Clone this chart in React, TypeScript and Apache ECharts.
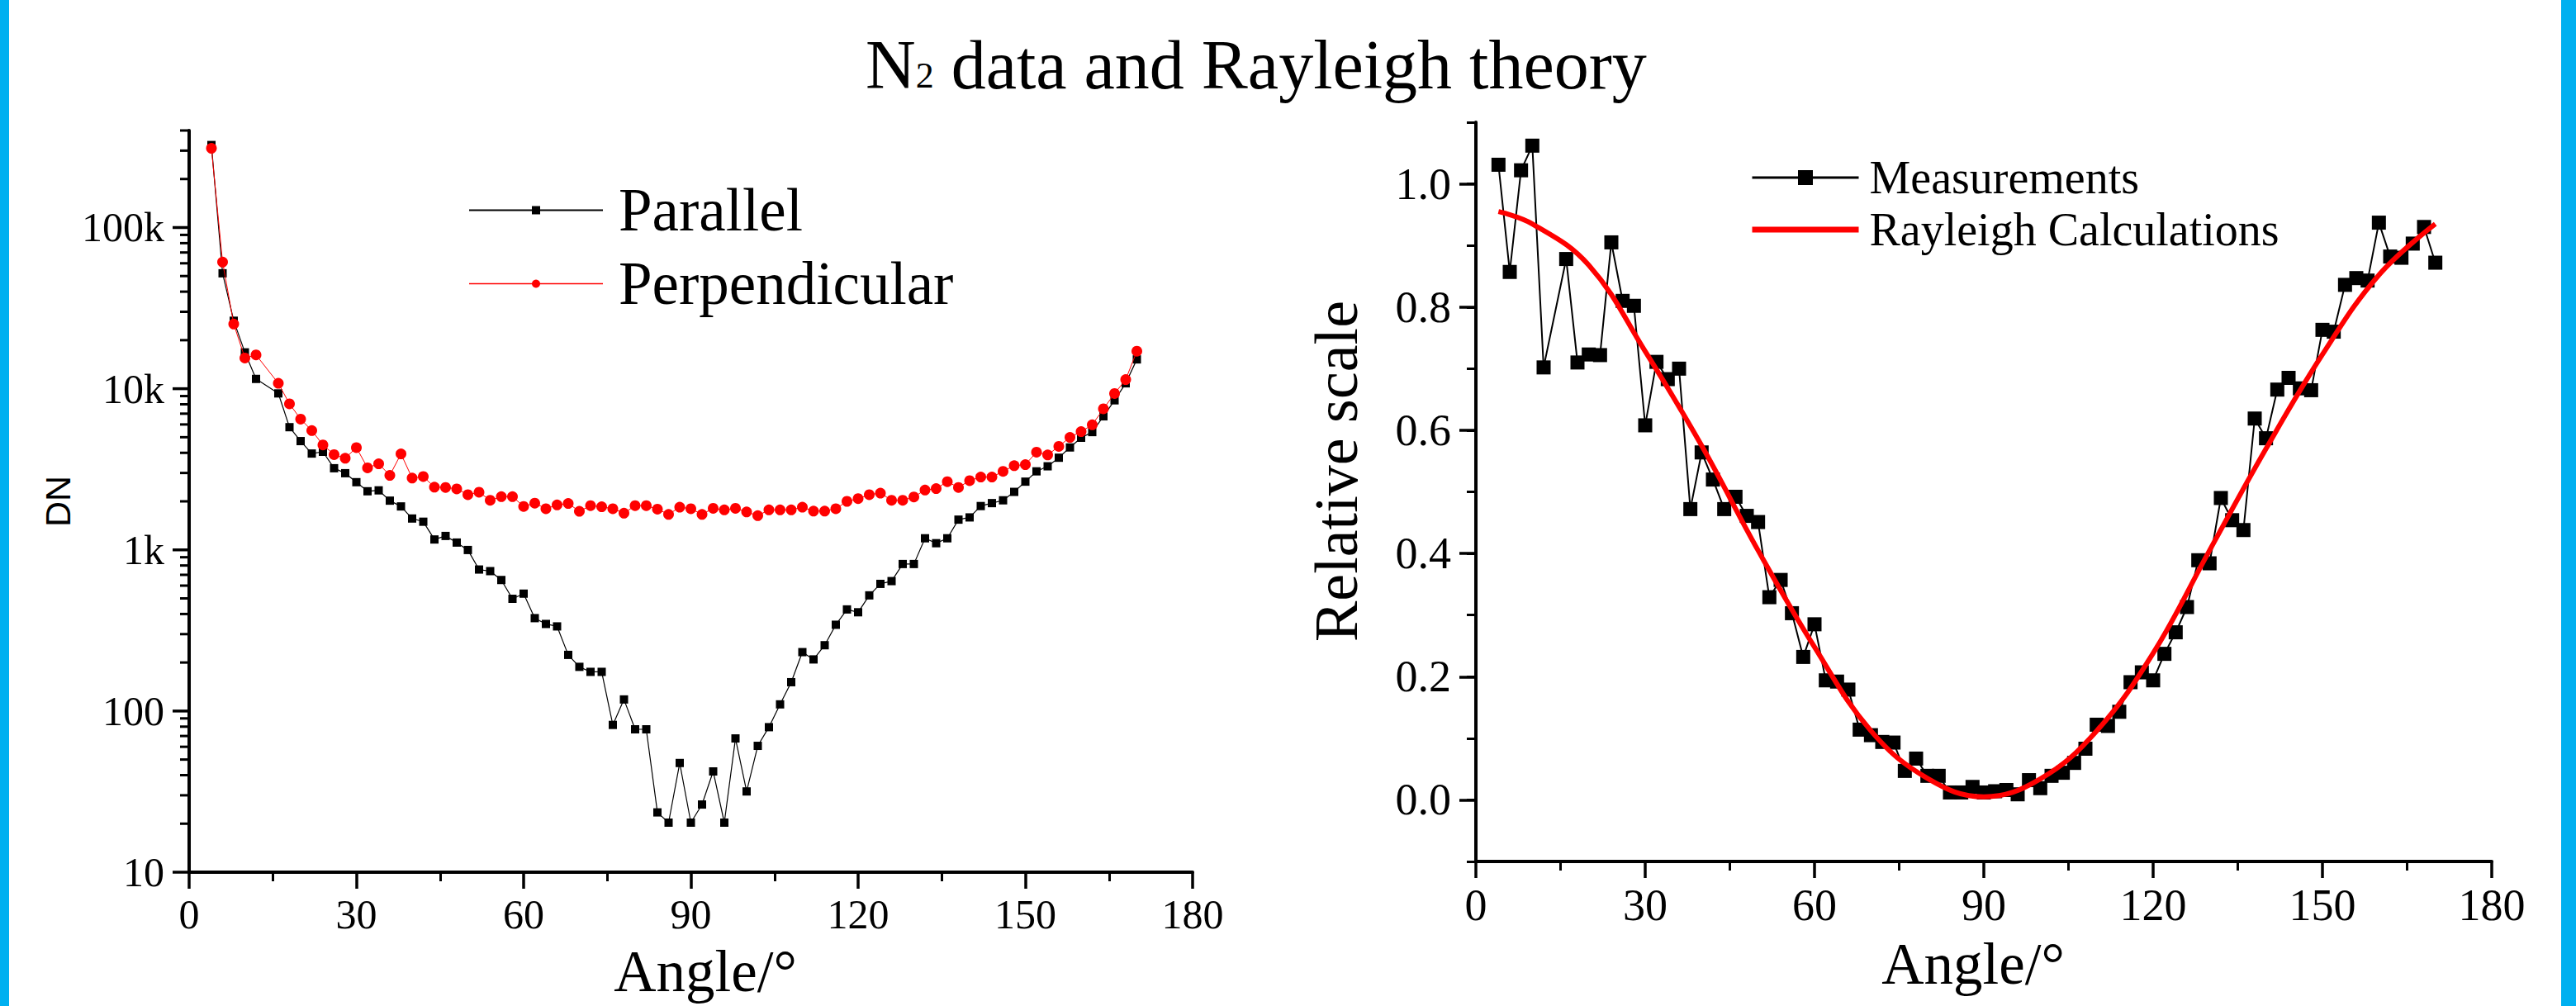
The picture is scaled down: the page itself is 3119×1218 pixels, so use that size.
import React, { useEffect, useRef } from "react";
import * as echarts from "echarts";

const SERIF = "'Liberation Serif', 'Times New Roman', serif";
const SANS = "'Liberation Sans', Arial, sans-serif";

// Scattering angles (deg) shared by all measured series
const angles = [
  4, 6, 8, 10, 12, 16, 18, 20, 22, 24, 26, 28, 30, 32, 34, 36, 38, 40, 42, 44,
  46, 48, 50, 52, 54, 56, 58, 60, 62, 64, 66, 68, 70, 72, 74, 76, 78, 80, 82,
  84, 86, 88, 90, 92, 94, 96, 98, 100, 102, 104, 106, 108, 110, 112, 114, 116,
  118, 120, 122, 124, 126, 128, 130, 132, 134, 136, 138, 140, 142, 144, 146,
  148, 150, 152, 154, 156, 158, 160, 162, 164, 166, 168, 170,
];

// Left chart: DN (log scale)
const parallel = [
  325000, 52000, 26400, 16800, 11500, 9350, 5770, 4730, 3960, 4060, 3210, 2990,
  2630, 2310, 2340, 2020, 1860, 1565, 1495, 1160, 1220, 1110, 998, 755, 738,
  650, 497, 535, 377, 347, 335, 223, 188, 175, 175, 82, 118, 77, 77, 23.5, 20.3,
  47.6, 20.3, 26.3, 42.2, 20.3, 67.6, 31.7, 60.8, 79.4, 110, 151, 232, 209, 256,
  343, 427, 410, 522, 615, 640, 817, 817, 1180, 1100, 1180, 1540, 1590, 1870,
  1950, 2030, 2290, 2650, 3070, 3300, 3730, 4320, 4960, 5380, 6740, 8470,
  10800, 15200,
];

const perpendicular = [
  310000, 61000, 25200, 15500, 16200, 10800, 8050, 6480, 5500, 4480, 3900,
  3700, 4310, 3230, 3420, 2900, 3940, 2790, 2850, 2450, 2440, 2390, 2200, 2280,
  2030, 2140, 2140, 1860, 1950, 1800, 1900, 1940, 1735, 1880, 1850, 1800, 1690,
  1880, 1880, 1790, 1660, 1840, 1800, 1660, 1810, 1770, 1810, 1720, 1630, 1770,
  1770, 1770, 1840, 1740, 1740, 1800, 2000, 2080, 2200, 2250, 2030, 2030, 2130,
  2350, 2400, 2650, 2440, 2690, 2830, 2830, 3070, 3330, 3380, 4040, 3880, 4390,
  4990, 5420, 5970, 7500, 9330, 11400, 17100,
];

// Right chart: relative scale
const measurements = [
  1.031, 0.857, 1.022, 1.062, 0.702, 0.878, 0.71, 0.723, 0.722, 0.905, 0.81,
  0.802, 0.608, 0.711, 0.683, 0.7, 0.472, 0.564, 0.52, 0.472, 0.492, 0.461,
  0.451, 0.329, 0.357, 0.303, 0.232, 0.285, 0.194, 0.192, 0.179, 0.114, 0.105,
  0.094, 0.093, 0.047, 0.067, 0.039, 0.039, 0.012, 0.012, 0.021, 0.012, 0.014,
  0.016, 0.009, 0.032, 0.019, 0.039, 0.044, 0.06, 0.083, 0.122, 0.12, 0.143,
  0.191, 0.207, 0.194, 0.237, 0.272, 0.313, 0.389, 0.384, 0.49, 0.454, 0.438,
  0.619, 0.587, 0.666, 0.685, 0.668, 0.665, 0.763, 0.76, 0.836, 0.847, 0.843,
  0.937, 0.882, 0.88, 0.903, 0.93, 0.872,
];

const rayleighAngles = [4, 10, 20, 30, 40, 50, 60, 70, 80, 90, 100, 110, 120, 130, 140, 150, 160, 170];
const rayleighValues = [
  0.955, 0.935, 0.868, 0.728, 0.575, 0.405, 0.248, 0.112, 0.035, 0.005, 0.034,
  0.112, 0.238, 0.405, 0.57, 0.723, 0.852, 0.935,
];

// Axis tick positions
const relativeLabelValues = [0, 0.2, 0.4, 0.6, 0.8, 1.0];
const logMajorTicks = [10, 100, 1000, 10000, 100000];
const logMinorTicks = [
  20, 30, 40, 50, 60, 70, 80, 90, 200, 300, 400, 500, 600, 700, 800, 900, 2000,
  3000, 4000, 5000, 6000, 7000, 8000, 9000, 20000, 30000, 40000, 50000, 60000,
  70000, 80000, 90000, 200000, 300000, 400000,
];

function buildOption() {
  const pair = (xs: number[], ys: number[]) => xs.map((x, i) => [x, ys[i]]);

  const xAxisBase = (gridIndex: number, fontSize: number, nameGap: number, padding: number[]) => ({
    gridIndex,
    type: "value",
    min: 0,
    max: 180,
    interval: 30,
    axisLine: { show: true, onZero: false, lineStyle: { color: "#000", width: 4 } },
    axisTick: { show: true, length: 20, lineStyle: { color: "#000", width: 3.5 } },
    minorTick: { show: true, splitNumber: 2, length: 11, lineStyle: { color: "#000", width: 3 } },
    splitLine: { show: false },
    axisLabel: { fontSize, margin: 26, color: "#000", fontFamily: SERIF },
    name: "Angle/°",
    nameLocation: "middle",
    nameGap,
    nameTextStyle: { fontSize: 71, color: "#000", fontFamily: SERIF, padding },
  });

  return {
    animation: false,
    backgroundColor: "#fff",
    textStyle: { fontFamily: SERIF, color: "#000" },
    title: {
      text: "{n|N}{s|2}{n| data and Rayleigh theory}",
      left: 1043,
      top: 31,
      textStyle: {
        fontWeight: "normal",
        rich: {
          n: { fontSize: 84, lineHeight: 84, fontFamily: SERIF, fontWeight: "normal", color: "#000" },
          s: { fontSize: 44, lineHeight: 44, fontFamily: SERIF, fontWeight: "normal", color: "#000", verticalAlign: "bottom", padding: [0, 0, 7, 0] },
        },
      },
    },
    graphic: [
      { type: "rect", left: 0, top: 0, shape: { width: 11, height: 1218 }, style: { fill: "#00B0F0" }, silent: true },
      { type: "rect", left: 3101, top: 0, shape: { width: 18, height: 1218 }, style: { fill: "#00B0F0" }, silent: true },
    ],
    legend: [
      {
        data: [
          { name: "Parallel", lineStyle: { width: 2 } },
          { name: "Perpendicular", lineStyle: { width: 1.5 } },
        ],
        orient: "vertical",
        left: 562,
        top: 213,
        itemWidth: 162,
        itemHeight: 12.5,
        itemGap: 16,
        selectedMode: false,
        textStyle: { fontSize: 73, lineHeight: 73, fontFamily: SERIF, color: "#000", padding: [0, 0, 0, 14] },
      },
      {
        data: [
          { name: "Measurements", lineStyle: { width: 3 } },
          { name: "Rayleigh Calculations", itemStyle: { opacity: 0 }, lineStyle: { width: 7, color: "#FF0000" } },
        ],
        orient: "vertical",
        left: 2113,
        top: 182,
        itemWidth: 129,
        itemHeight: 22.5,
        itemGap: 7,
        selectedMode: false,
        textStyle: { fontSize: 56, lineHeight: 56, fontFamily: SERIF, color: "#000", padding: [0, 0, 0, 8] },
      },
    ],
    grid: [
      { left: 229, top: 158, width: 1215, height: 898, containLabel: false },
      { left: 1787, top: 148, width: 1230, height: 895, containLabel: false },
    ],
    xAxis: [xAxisBase(0, 50, 84, [0, 0, 0, 35]), xAxisBase(1, 54, 88, [0, 26, 0, 0])],
    yAxis: [
      {
        gridIndex: 0,
        type: "log",
        logBase: 10,
        min: 10,
        max: 400000,
        position: "left",
        axisLine: { show: true, onZero: false, lineStyle: { color: "#000", width: 4 } },
        axisTick: { show: false },
        splitLine: { show: false },
        axisLabel: {
          fontSize: 50,
          margin: 30,
          color: "#000",
          fontFamily: SERIF,
          showMaxLabel: false,
          formatter: (v: number) => (v >= 1000 ? Math.round(v / 1000) + "k" : String(Math.round(v))),
        },
        name: "DN",
        nameLocation: "middle",
        nameGap: 138,
        nameTextStyle: { fontSize: 43, color: "#000", fontFamily: SANS },
      },
      {
        gridIndex: 1,
        type: "value",
        min: -0.1,
        max: 1.1,
        interval: 0.1,
        position: "left",
        axisLine: { show: true, onZero: false, lineStyle: { color: "#000", width: 4 } },
        axisTick: { show: true, length: 11, lineStyle: { color: "#000", width: 3 } },
        splitLine: { show: false },
        axisLabel: {
          customValues: relativeLabelValues,
          fontSize: 54,
          margin: 30,
          color: "#000",
          fontFamily: SERIF,
          formatter: (v: number) => v.toFixed(1),
        },
        name: "Relative scale",
        nameLocation: "middle",
        nameGap: 132,
        nameTextStyle: { fontSize: 74, color: "#000", fontFamily: SERIF, padding: [0, 0, 0, 50] },
      },
      {
        gridIndex: 1,
        type: "value",
        min: -0.1,
        max: 1.1,
        interval: 0.1,
        position: "left",
        axisLine: { show: false },
        axisTick: { show: true, customValues: relativeLabelValues, length: 20, lineStyle: { color: "#000", width: 3.5 } },
        axisLabel: { show: false },
        splitLine: { show: false },
      },
    ],
    series: [
      {
        name: "Parallel",
        type: "line",
        xAxisIndex: 0,
        yAxisIndex: 0,
        data: pair(angles, parallel),
        symbol: "rect",
        symbolSize: 10,
        itemStyle: { color: "#000" },
        lineStyle: { color: "#000", width: 1.2 },
        z: 2,
      },
      {
        name: "Perpendicular",
        type: "line",
        xAxisIndex: 0,
        yAxisIndex: 0,
        data: pair(angles, perpendicular),
        symbol: "circle",
        symbolSize: 13,
        itemStyle: { color: "#FF0000" },
        lineStyle: { color: "#FF0000", width: 1 },
        z: 3,
      },
      {
        type: "custom",
        xAxisIndex: 0,
        yAxisIndex: 0,
        silent: true,
        clip: false,
        z: 5,
        encode: { x: 0, y: 1 },
        data: [
          ...logMajorTicks.map((v) => [0, v, 20, 3.5]),
          ...logMinorTicks.map((v) => [0, v, 11, 3]),
        ],
        renderItem: (_p: any, api: any) => {
          const pt = api.coord([api.value(0), api.value(1)]);
          const len = api.value(2);
          return {
            type: "line",
            shape: { x1: pt[0] - len, y1: pt[1], x2: pt[0], y2: pt[1] },
            style: { stroke: "#000", lineWidth: api.value(3) },
          };
        },
      },
      {
        name: "Measurements",
        type: "line",
        xAxisIndex: 1,
        yAxisIndex: 1,
        data: pair(angles, measurements),
        symbol: "rect",
        symbolSize: 17,
        itemStyle: { color: "#000" },
        lineStyle: { color: "#000", width: 2 },
        z: 2,
      },
      {
        name: "Rayleigh Calculations",
        type: "line",
        xAxisIndex: 1,
        yAxisIndex: 1,
        data: pair(rayleighAngles, rayleighValues),
        smooth: 0.4,
        showSymbol: false,
        symbol: "circle",
        itemStyle: { color: "#FF0000" },
        lineStyle: { color: "#FF0000", width: 6 },
        z: 3,
      },
    ],
  };
}

export default function App() {
  const ref = useRef<HTMLDivElement>(null);
  useEffect(() => {
    const chart = echarts.init(ref.current!, null, { renderer: "svg" });
    chart.setOption(buildOption() as any);
    return () => chart.dispose();
  }, []);
  return (
    <div
      ref={ref}
      style={{ position: "absolute", left: 0, top: 0, width: 3119, height: 1218, background: "#fff" }}
    />
  );
}
